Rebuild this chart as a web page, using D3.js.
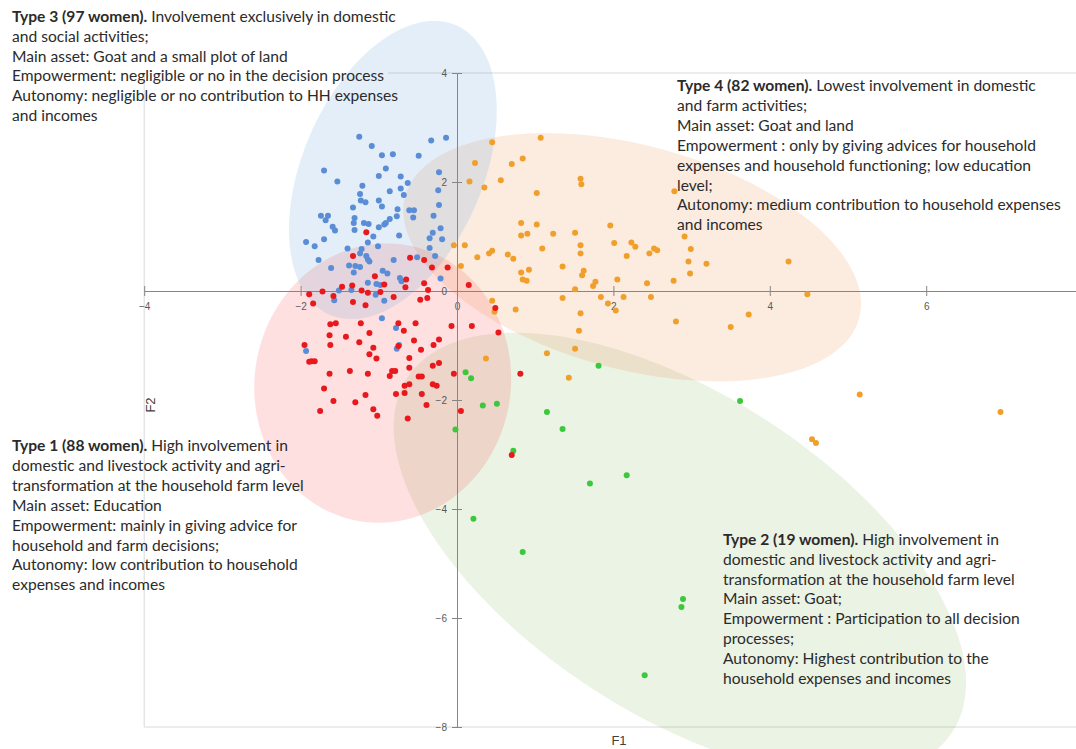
<!DOCTYPE html>
<html>
<head>
<meta charset="utf-8">
<script src="https://cdn.jsdelivr.net/npm/d3@7"></script>
<style>
  body { margin: 0; background: #fff; }
  svg { display: block; }
  .note { font-family: Lato, "Open Sans", sans-serif; font-size: 15.6px; fill: #2b2b2b; }
  .tick text { font-family: "Liberation Sans", Arial, sans-serif; font-size: 10px; fill: #595959; }
</style>
</head>
<body>
<svg id="chart" width="1076" height="749"></svg>
<script>
// Factor scores (F1, F2) of each woman, grouped by household type
const type3Points = [
  [-1.25,2.83],[-1.09,2.66],[-0.96,2.49],[-0.82,2.51],[-0.49,2.48],[-0.33,2.76],[-0.14,2.81],
  [-1.70,2.21],[-1.53,2.01],[-0.91,2.25],[-1.00,2.11],[-0.72,2.10],[-0.63,1.98],[-0.23,2.18],
  [-1.21,1.93],[-0.86,1.83],[-0.72,1.88],[-0.68,1.76],[-0.24,1.85],[-1.24,1.78],[-1.23,1.66],
  [-1.17,1.63],[-1.00,1.66],[-0.96,1.55],[-1.33,1.53],[-0.76,1.50],[-0.61,1.48],[-0.55,1.48],
  [-0.23,1.58],[-1.74,1.38],[-1.65,1.38],[-1.68,1.30],[-1.31,1.34],[-0.77,1.37],[-0.56,1.35],
  [-0.30,1.38],[-1.59,1.18],[-1.56,1.11],[-1.32,1.25],[-1.19,1.25],[-1.13,1.23],[-0.86,1.32],
  [-0.91,1.25],[-0.93,1.22],[-1.00,1.17],[-1.31,1.12],[-0.21,1.15],[-0.31,1.07],[-1.07,1.00],
  [-0.74,1.02],[-0.35,0.97],[-0.19,0.95],[-1.70,0.95],[-1.93,0.90],[-1.82,0.82],[-1.14,0.89],
  [-1.40,0.78],[-1.01,0.82],[-1.22,0.77],[-1.24,0.69],[-0.35,0.79],[-1.77,0.57],[-1.16,0.64],
  [-1.14,0.58],[-1.12,0.54],[-0.81,0.57],[-0.51,0.62],[-0.28,0.64],[-1.61,0.42],[-1.38,0.47],
  [-1.30,0.46],[-1.24,0.44],[-1.32,0.34],[-0.95,0.37],[-0.89,0.32],[-0.73,0.24],[-0.71,0.18],
  [-0.21,0.23],[-1.14,0.15],[-1.03,0.13],[-0.98,0.11],[-1.51,0.01],[-1.04,-0.07],[-1.57,-0.17],
  [-0.93,-0.18],[-0.96,-0.50],[-0.78,-0.68],[-1.93,-1.10],[-0.74,-0.99],[-0.77,-1.06],[-1.35,0.02]
];
const type4Points = [
  [0.45,2.73],[1.07,2.81],[0.23,2.35],[0.70,2.33],[0.84,2.43],[0.16,2.01],[0.56,2.03],[0.35,1.90],
  [1.02,1.80],[1.58,2.06],[1.59,1.96],[2.78,1.83],[0.82,1.25],[1.02,1.22],[0.82,1.02],[0.90,1.05],
  [1.23,1.05],[1.51,1.07],[1.96,1.20],[2.91,1.00],[-0.04,0.84],[0.10,0.84],[1.09,0.78],[1.58,0.84],
  [2.01,0.88],[2.23,0.89],[2.28,0.81],[2.52,0.78],[2.56,0.75],[2.99,0.77],[0.26,0.62],[0.41,0.69],
  [0.45,0.74],[0.65,0.67],[0.72,0.59],[1.58,0.69],[2.17,0.64],[2.46,0.69],[2.96,0.54],[3.19,0.50],
  [0.05,0.46],[1.35,0.45],[0.82,0.34],[0.92,0.39],[1.62,0.37],[1.60,0.29],[2.98,0.32],[0.84,0.21],
  [0.89,0.19],[1.77,0.17],[1.74,0.09],[2.05,0.21],[2.43,0.14],[2.77,0.19],[1.51,0.03],[1.35,-0.13],
  [1.84,-0.11],[2.13,-0.11],[2.48,-0.11],[0.45,-0.18],[1.93,-0.23],[2.03,-0.36],[0.48,-0.38],
  [0.75,-0.34],[1.58,-0.41],[2.80,-0.56],[1.56,-0.73],[4.24,0.54],[4.48,-0.06],[3.73,-0.43],
  [3.50,-0.66],[1.15,-1.14],[1.51,-1.06],[0.37,-1.24],[1.43,-1.59],[5.15,-1.90],[6.95,-2.22],
  [4.54,-2.72],[4.59,-2.79]
];
const type1Points = [
  [-1.16,1.08],[-1.33,0.64],[-0.60,0.61],[-0.42,0.57],[-0.32,0.43],[-0.12,0.43],[-1.05,0.27],
  [-0.65,0.21],[-0.93,0.12],[-0.42,0.14],[-1.47,0.08],[-1.34,0.10],[-1.22,0.01],[-1.14,-0.03],
  [-0.66,0.07],[0.15,0.11],[-1.89,-0.06],[-1.72,-0.01],[-1.58,-0.09],[-0.98,-0.02],[-0.81,-0.11],
  [-0.47,-0.16],[-0.38,-0.13],[-0.37,0.02],[-1.84,-0.23],[-1.33,-0.20],[-1.17,-0.26],[0.49,-0.31],
  [-1.62,-0.61],[-1.55,-0.59],[-1.23,-0.59],[-0.75,-0.59],[-0.53,-0.59],[-1.63,-0.81],[-1.42,-0.84],
  [-1.12,-0.77],[-0.68,-0.73],[-0.07,-0.64],[0.19,-0.64],[0.53,-0.76],[-1.95,-0.99],[-1.62,-0.99],
  [-1.25,-0.94],[-0.55,-0.91],[-0.23,-0.89],[-0.30,-0.99],[-1.07,-1.04],[-0.75,-1.01],[-0.46,-1.08],
  [-1.89,-1.30],[-1.86,-1.29],[-1.82,-1.29],[-1.12,-1.16],[-1.03,-1.24],[-0.61,-1.23],[-0.61,-1.41],
  [-0.31,-1.37],[-0.23,-1.32],[-1.63,-1.52],[-1.37,-1.47],[-1.14,-1.52],[-0.83,-1.47],[-0.79,-1.47],
  [-0.86,-1.56],[-0.49,-1.57],[-0.45,-1.57],[-0.04,-1.52],[-0.67,-1.74],[-0.61,-1.71],[-0.31,-1.71],
  [-0.26,-1.74],[-1.70,-1.79],[-1.17,-1.91],[-0.78,-1.89],[-0.67,-1.87],[-0.45,-1.89],[-1.58,-2.02],
  [-1.30,-2.04],[-0.39,-2.09],[-1.75,-2.20],[-1.07,-2.17],[-1.02,-2.29],[-0.63,-2.34],[0.05,-2.20],
  [0.81,-1.52],[0.70,-3.01]
];
const type2Points = [
  [1.81,-1.37],[0.11,-1.49],[0.18,-1.60],[0.33,-2.10],[0.51,-2.07],[1.15,-2.22],[1.35,-2.53],
  [-0.02,-2.54],[0.72,-2.93],[2.17,-3.38],[1.70,-3.53],[0.21,-4.18],[3.62,-2.02],[0.84,-4.79],
  [2.89,-5.65],[2.87,-5.80],[2.40,-7.05]
];

// Group ellipses: centre and two conjugate semi-diameters, in factor units
const type3Ellipse = [-0.82, 2.22, 0.80, 2.66, 1.06, -0.64];
const type4Ellipse = [2.24, 0.62, 2.903, -1.116, -0.371, -1.985];
const type1Ellipse = [-0.95, -1.69, 0.311, 2.530, 1.613, -0.407];
const type2Ellipse = [2.85, -4.84, 3.486, -3.248, -1.114, -2.462];

const xTicks = [-4, -2, 0, 2, 4, 6];
const yTicks = [4, 2, 0, -2, -4, -6, -8];

const note3 = [
  ["Type 3 (97 women).", " Involvement exclusively in domestic"],
  "and social activities;",
  "Main asset: Goat and a small plot of land",
  "Empowerment: negligible or no in the decision process",
  "Autonomy: negligible or no contribution to HH expenses",
  "and incomes"
];
const note4 = [
  ["Type 4 (82 women).", " Lowest involvement in domestic"],
  "and farm activities;",
  "Main asset: Goat and land",
  "Empowerment : only by giving advices for household",
  "expenses and household functioning; low education",
  "level;",
  "Autonomy: medium contribution to household expenses",
  "and incomes"
];
const note1 = [
  ["Type 1 (88 women).", " High involvement in"],
  "domestic and livestock activity and agri-",
  "transformation at the household farm level",
  "Main asset: Education",
  "Empowerment: mainly in giving advice for",
  "household and farm decisions;",
  "Autonomy: low contribution to household",
  "expenses and incomes"
];
const note2 = [
  ["Type 2 (19 women).", " High involvement in"],
  "domestic and livestock activity and agri-",
  "transformation at the household farm level",
  "Main asset: Goat;",
  "Empowerment : Participation to all decision",
  "processes;",
  "Autonomy: Highest contribution to the",
  "household expenses and incomes"
];

const svg = d3.select("#chart");
const x = d3.scaleLinear().domain([-4, 8]).range([144.2, 1082.6]);
const y = d3.scaleLinear().domain([-8, 4]).range([727, 73]);

// plot frame; its top edge starts where the Type 3 note ends
const x0 = x(-4), x1 = x(8), yTop = y(4), yBot = y(-8);
svg.append("path")
  .attr("d", `M388,${yTop}H${x1}V${yBot}H${x0}V${yTop}`)
  .attr("fill", "none").attr("stroke", "#d9d9d9").attr("stroke-width", 1);

// confidence ellipses
const ellipsePath = e => {
  const [cx, cy, ux, uy, vx, vy] = e;
  const ts = d3.range(0, 2 * Math.PI, Math.PI / 90);
  return d3.line()
    .x(t => x(cx + ux * Math.cos(t) + vx * Math.sin(t)))
    .y(t => y(cy + uy * Math.cos(t) + vy * Math.sin(t)))
    .curve(d3.curveLinearClosed)(ts);
};
const ellipses = [
  { e: type2Ellipse, color: "#70ad47", op: 0.14 },
  { e: type1Ellipse, color: "#ff2020", op: 0.14 },
  { e: type4Ellipse, color: "#ed7d31", op: 0.15 },
  { e: type3Ellipse, color: "#5b9bd5", op: 0.17 }
];
svg.append("g").selectAll("path").data(ellipses).join("path")
  .attr("d", d => ellipsePath(d.e))
  .attr("fill", d => d.color).attr("fill-opacity", d => d.op);

// axes crossing at the origin
const xAxis = svg.append("g")
  .attr("transform", `translate(0,${y(0)})`)
  .call(d3.axisBottom(x).tickValues(xTicks).tickSize(0).tickPadding(12).tickFormat(d3.format("d")));
const yAxis = svg.append("g")
  .attr("transform", `translate(${x(0)},0)`)
  .call(d3.axisLeft(y).tickValues(yTicks).tickSize(0).tickPadding(10).tickFormat(d3.format("d")));
[xAxis, yAxis].forEach(g => {
  g.select(".domain").attr("stroke", "#868686");
  g.selectAll(".tick line").attr("stroke", "#868686");
  g.selectAll(".tick text").attr("fill", "#595959");
});
xAxis.selectAll(".tick line").attr("y1", -5).attr("y2", 5);
yAxis.selectAll(".tick line").attr("x1", -5).attr("x2", 5);

// points
const groups = [
  { pts: type3Points, color: "#5a8dd6" },
  { pts: type4Points, color: "#f0a02a" },
  { pts: type2Points, color: "#3cc83c" },
  { pts: type1Points, color: "#e8181c" }
];
groups.forEach(g => {
  svg.append("g").selectAll("circle").data(g.pts).join("circle")
    .attr("cx", d => x(d[0])).attr("cy", d => y(d[1])).attr("r", 3)
    .attr("fill", g.color);
});

// axis titles
svg.append("text").attr("x", 619).attr("y", 745).attr("text-anchor", "middle")
  .attr("font-family", "Liberation Sans, Arial, sans-serif").attr("font-size", 13).attr("fill", "#404040")
  .text("F1");
svg.append("text").attr("transform", "translate(155,405) rotate(-90)").attr("text-anchor", "middle")
  .attr("font-family", "Liberation Sans, Arial, sans-serif").attr("font-size", 13).attr("fill", "#404040")
  .text("F2");

// type descriptions
function drawNote(lines, left, top, lh) {
  const t = svg.append("text").attr("class", "note");
  lines.forEach((ln, i) => {
    const yy = top + i * lh;
    if (Array.isArray(ln)) {
      t.append("tspan").attr("x", left).attr("y", yy).attr("font-weight", "bold").text(ln[0]);
      t.append("tspan").text(ln[1]);
    } else {
      t.append("tspan").attr("x", left).attr("y", yy).text(ln);
    }
  });
}
drawNote(note3, 12, 22, 19.8);
drawNote(note4, 677, 91, 19.9);
drawNote(note1, 12, 451, 19.9);
drawNote(note2, 723, 545, 19.8);
</script>
</body>
</html>
